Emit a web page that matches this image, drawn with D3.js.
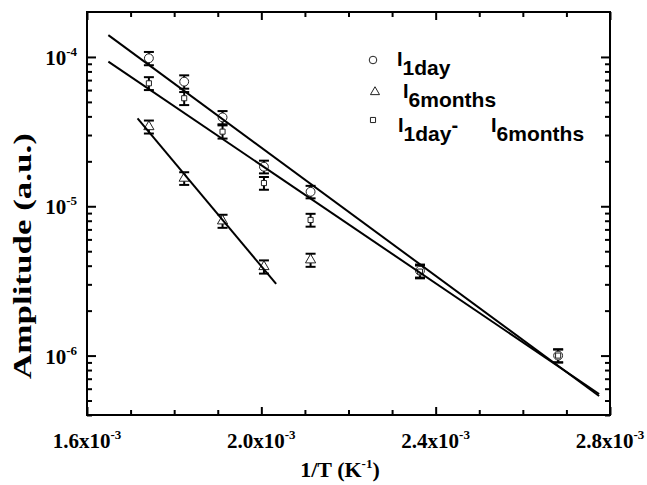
<!DOCTYPE html>
<html>
<head>
<meta charset="utf-8">
<script src="https://cdn.jsdelivr.net/npm/d3@7"></script>
<style>body{margin:0;background:#fff}</style>
</head>
<body>
<script>
// values
const xDay = [1.742e-3, 1.823e-3, 1.911e-3, 2.006e-3, 2.113e-3, 2.364e-3, 2.681e-3];
const day1 = [9.8e-5, 6.83e-5, 3.94e-5, 1.84e-5, 1.25e-5, 3.7e-6, 1.0e-6];
const day1Err = [1.0e-5, 7e-6, 4e-6, 1.8e-6, 1.2e-6, 3.7e-7, 1.0e-7];
const xMonths = [1.742e-3, 1.823e-3, 1.911e-3, 2.006e-3, 2.113e-3];
const months6 = [3.41e-5, 1.54e-5, 7.97e-6, 3.94e-6, 4.37e-6];
const months6Err = [3.4e-6, 1.5e-6, 8e-7, 4e-7, 4.4e-7];
const diff = [6.66e-5, 5.29e-5, 3.16e-5, 1.43e-5, 8.1e-6, 3.65e-6, 1.0e-6];
const diffErr = [6.6e-6, 5.3e-6, 3.2e-6, 1.4e-6, 8e-7, 3.6e-7, 1.0e-7];

// linear fits (end points)
const fitX = [1.649e-3, 2.775e-3];
const fitDay1 = [1.40e-4, 5.36e-7];
const fitDiff = [9.3e-5, 5.53e-7];
const fit6X = [1.716e-3, 2.034e-3];
const fit6 = [3.88e-5, 3.02e-6];

const xMajor = [1.6e-3, 2.0e-3, 2.4e-3, 2.8e-3];
const xMinor = [1.7e-3, 1.8e-3, 1.9e-3, 2.1e-3, 2.2e-3, 2.3e-3, 2.5e-3, 2.6e-3, 2.7e-3];
const xLabels = ["1.6x10", "2.0x10", "2.4x10", "2.8x10"];
const yMajor = [1e-6, 1e-5, 1e-4];
const yMinor = [4e-7, 5e-7, 6e-7, 7e-7, 8e-7, 9e-7,
  2e-6, 3e-6, 4e-6, 5e-6, 6e-6, 7e-6, 8e-6, 9e-6,
  2e-5, 3e-5, 4e-5, 5e-5, 6e-5, 7e-5, 8e-5, 9e-5];
const yExp = ["-6", "-5", "-4"];

const w = 647, h = 485;
const pl = 87, pr = 610, pt = 12, pb = 415;
const serif = "'Liberation Serif', 'Times New Roman', serif";
const sans = "'Liberation Sans', Arial, sans-serif";

const svg = d3.select("body").append("svg").attr("width", w).attr("height", h);

const x = d3.scaleLinear().domain([1.6e-3, 2.8e-3]).range([pl, pr]);
const y = d3.scaleLog().domain([4e-7, 2e-4]).range([pb, pt]);

// inward ticks on all four sides
const tickSet = function(axis, vals, size, tr) {
  const g = svg.append("g").attr("transform", tr)
    .call(axis.tickValues(vals).tickSize(-size).tickFormat(""));
  g.select(".domain").remove();
  g.selectAll("line").attr("stroke", "black").attr("stroke-width", 2);
};
tickSet(d3.axisBottom(x), xMajor, 8, `translate(0,${pb})`);
tickSet(d3.axisBottom(x), xMinor, 5, `translate(0,${pb})`);
tickSet(d3.axisTop(x), xMajor, 8, `translate(0,${pt})`);
tickSet(d3.axisTop(x), xMinor, 5, `translate(0,${pt})`);
tickSet(d3.axisLeft(y), yMajor, 9, `translate(${pl},0)`);
tickSet(d3.axisLeft(y), yMinor, 5, `translate(${pl},0)`);
tickSet(d3.axisRight(y), yMajor, 9, `translate(${pr},0)`);
tickSet(d3.axisRight(y), yMinor, 5, `translate(${pr},0)`);

svg.append("rect")
  .attr("x", pl).attr("y", pt)
  .attr("width", pr - pl).attr("height", pb - pt)
  .attr("fill", "none").attr("stroke", "black").attr("stroke-width", 2);

// tick labels
const xt = svg.append("g").selectAll("text").data(xMajor).enter().append("text")
  .attr("x", d => x(d)).attr("y", 448)
  .attr("text-anchor", "middle")
  .attr("font-family", serif).attr("font-weight", "bold").attr("font-size", "21px");
xt.append("tspan").text((d, i) => xLabels[i]);
xt.append("tspan").attr("dy", -9).attr("font-size", "13px").text("-3");

const yt = svg.append("g").selectAll("text").data(yMajor).enter().append("text")
  .attr("x", 77).attr("y", d => y(d) + 8)
  .attr("text-anchor", "end")
  .attr("font-family", serif).attr("font-weight", "bold").attr("font-size", "21px");
yt.append("tspan").text("10");
yt.append("tspan").attr("dy", -9).attr("font-size", "13px").text((d, i) => yExp[i]);

// axis titles
const xTitle = svg.append("text")
  .attr("x", 340).attr("y", 477)
  .attr("text-anchor", "middle")
  .attr("font-family", serif).attr("font-weight", "bold").attr("font-size", "22px");
xTitle.append("tspan").text("1/T (K");
xTitle.append("tspan").attr("dy", -9).attr("font-size", "13px").text("-1");
xTitle.append("tspan").attr("dy", 9).text(")");

svg.append("text")
  .attr("transform", "translate(31,256) rotate(-90) scale(1.4,1)")
  .attr("text-anchor", "middle")
  .attr("font-family", serif).attr("font-weight", "bold").attr("font-size", "25px")
  .text("Amplitude (a.u.)");

// error bars
const errBars = function(xv, yv, ev) {
  const g = svg.append("g");
  xv.forEach((d, i) => {
    const x0 = x(d), y1 = y(yv[i] + ev[i]), y2 = y(yv[i] - ev[i]);
    g.append("line").attr("x1", x0).attr("x2", x0).attr("y1", y1).attr("y2", y2);
    g.append("line").attr("x1", x0 - 5).attr("x2", x0 + 5).attr("y1", y1).attr("y2", y1);
    g.append("line").attr("x1", x0 - 5).attr("x2", x0 + 5).attr("y1", y2).attr("y2", y2);
  });
  g.selectAll("line").attr("stroke", "black").attr("stroke-width", 2);
};
errBars(xDay, day1, day1Err);
errBars(xMonths, months6, months6Err);
errBars(xDay, diff, diffErr);

// markers
const markers = function(xv, yv, type, size) {
  svg.append("g").selectAll("path").data(xv).enter().append("path")
    .attr("transform", (d, i) => `translate(${x(d)},${y(yv[i])})`)
    .attr("d", d3.symbol().type(type).size(size))
    .attr("fill", "white").attr("stroke", "#222").attr("stroke-width", 1);
};
markers(xDay, day1, d3.symbolCircle, 62);
markers(xMonths, months6, d3.symbolTriangle, 45);
markers(xDay, diff, d3.symbolSquare, 26);

// fit lines
const fitLine = function(xv, yv) {
  svg.append("path")
    .datum(xv)
    .attr("d", d3.line().x(d => x(d)).y((d, i) => y(yv[i])))
    .attr("fill", "none").attr("stroke", "black").attr("stroke-width", 2);
};
fitLine(fitX, fitDay1);
fitLine(fitX, fitDiff);
fitLine(fit6X, fit6);

// legend
const legend = svg.append("g");
const legSym = [d3.symbolCircle, d3.symbolTriangle, d3.symbolSquare];
const legSize = [45, 36, 26];
const legPos = [[373, 60], [375, 92], [373, 120]];
legSym.forEach((s, i) => {
  legend.append("path")
    .attr("transform", `translate(${legPos[i][0]},${legPos[i][1]})`)
    .attr("d", d3.symbol().type(s).size(legSize[i]))
    .attr("fill", "white").attr("stroke", "#222").attr("stroke-width", 1);
});
// each part: [text, subscript?, absolute x or null]
const legText = function(yp, parts) {
  const t = legend.append("text").attr("y", yp)
    .attr("font-family", sans).attr("font-weight", "bold").attr("font-size", "20px");
  let level = 0;
  parts.forEach(p => {
    const lv = p[1] ? 9 : 0;
    const s = t.append("tspan").attr("dy", lv - level).text(p[0]);
    if (p[2] !== null) s.attr("x", p[2]);
    if (p[1]) s.attr("font-size", "21px");
    level = lv;
  });
};
legText(66, [["I", false, 397], ["1day", true, null]]);
legText(98, [["I", false, 403], ["6months", true, null]]);
legText(132, [["I", false, 398], ["1day", true, null], ["-", false, null], ["I", false, 491], ["6months", true, null]]);
</script>
</body>
</html>
